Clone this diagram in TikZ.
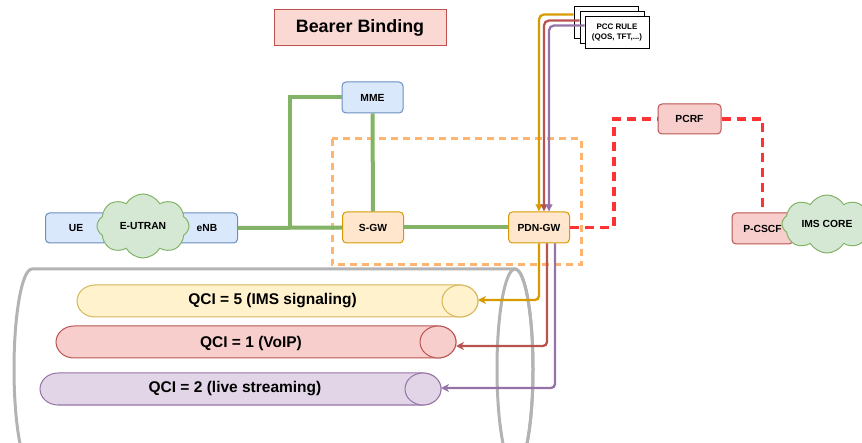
\documentclass[tikz,border=0pt]{standalone}
\usepackage{fontspec}
\setmainfont{Liberation Sans}
\usetikzlibrary{shapes.symbols,arrows.meta,calc}

\definecolor{grnD}{HTML}{82B366}
\definecolor{grnF}{HTML}{D5E8D4}
\definecolor{bluD}{HTML}{6C8EBF}
\definecolor{bluF}{HTML}{DAE8FC}
\definecolor{orgD}{HTML}{D79B00}
\definecolor{orgF}{HTML}{FFE6CC}
\definecolor{orgDash}{HTML}{FFB570}
\definecolor{redD}{HTML}{B85450}
\definecolor{redF}{HTML}{F8CECC}
\definecolor{redDash}{HTML}{FF3333}
\definecolor{purD}{HTML}{9673A6}
\definecolor{purF}{HTML}{E1D5E7}
\definecolor{ylwD}{HTML}{D6B656}
\definecolor{ylwF}{HTML}{FFF2CC}
\definecolor{titD}{HTML}{C0504D}
\definecolor{titF}{HTML}{FAD9D5}
\definecolor{cylD}{HTML}{B3B3B3}

% horizontal pipe: left x, right x, top y, bottom y, style
\newcommand\drawpipe[5]{%
  \path[#5] ({#1+18},#3) -- ({#2-18},#3)
    arc[start angle=-90,end angle=90,x radius=18,y radius={(#4-#3)/2}]
    -- ({#1+18},#4)
    arc[start angle=90,end angle=270,x radius=18,y radius={(#4-#3)/2}] -- cycle;
  \draw[#5] ({#2-18},{(#3+#4)/2}) ellipse[x radius=18,y radius={(#4-#3)/2}];
}

\tikzset{
  box/.style={draw, rounded corners=4pt, minimum width=61pt, minimum height=31pt,
    inner sep=0pt, line width=1pt, font=\bfseries\fontsize{10.3}{12}\selectfont},
  bluebox/.style={box, draw=bluD, fill=bluF},
  orangebox/.style={box, draw=orgD, fill=orgF},
  redbox/.style={box, draw=redD, fill=redF},
  cloudy/.style={cloud, cloud puffs=8, cloud puff arc=120, cloud ignores aspect,
    draw=grnD, fill=grnF, line width=1pt, inner sep=0pt,
    font=\bfseries\fontsize{10.3}{12}\selectfont},
  pccbox/.style={draw=black, fill=white, line width=1pt, minimum width=64pt,
    minimum height=32pt, inner sep=0pt, align=center,
    font=\bfseries\fontsize{8}{10}\selectfont},
  greenlink/.style={draw=grnD, line width=4pt},
  reddash/.style={draw=redDash, line width=3.5pt, dash pattern=on 9pt off 6pt},
  pccarrow/.style={line width=2.3pt, rounded corners=5pt, -{Triangle[length=7pt,width=6.5pt]}},
  qciarrow/.style={line width=2.3pt, rounded corners=4pt, -{Stealth[length=8pt,width=8pt,inset=2.5pt]}},
  qcitext/.style={font=\bfseries\fontsize{15.5}{18}\selectfont},
}

\begin{document}
\begin{tikzpicture}[x=1pt,y=-1pt]
\useasboundingbox (0,0) rectangle (862,443);
\clip (0,0) rectangle (862,443);

% bearer tunnel
\draw[cylD, line width=3pt] (32,269) -- (515,269)
  arc[start angle=-90,end angle=90,x radius=18,y radius=100]
  -- (32,469)
  arc[start angle=90,end angle=270,x radius=18,y radius=100] -- cycle;
\draw[cylD, line width=3pt] (515,369) ellipse[x radius=18,y radius=100];

% QCI bearers
\drawpipe{77}{478}{285}{317}{draw=ylwD, fill=ylwF, line width=1pt}
\drawpipe{56}{456}{326}{358}{draw=redD, fill=redF, line width=1pt}
\drawpipe{40}{441}{373}{405}{draw=purD, fill=purF, line width=1pt}
\node[qcitext] (q5) at (272.5,301) {QCI = 5 (IMS signaling)};
\node[qcitext] (q1) at (251,343) {QCI = 1 (VoIP)};
\node[qcitext] (q2) at (235,389) {QCI = 2 (live streaming)};
\coordinate (t5) at (478,300);
\coordinate (t1) at (456,346);
\coordinate (t2) at (441,388);

% EPC core frame
\draw[orgDash, line width=3pt, dash pattern=on 7pt off 5pt] (332,139) rectangle (581,265);

% title
\node[draw=titD, fill=titF, line width=1pt, minimum width=172pt, minimum height=36pt,
  inner sep=0pt, font=\bfseries\fontsize{17.9}{20}\selectfont] (title) at (360,28) {Bearer Binding};

% nodes
\node[bluebox] (mme) at (372.5,97.5) {MME};
\node[orangebox] (sgw) at (373,227.5) {S-GW};
\node[orangebox] (pdn) at (539,227.5) {PDN-GW};
\node[redbox, minimum width=63pt, minimum height=30pt] (pcrf) at (689.5,119) {PCRF};
\node[bluebox, minimum height=30pt] (ue) at (76,228) {UE};
\node[bluebox, minimum height=30pt] (enb) at (207,228) {eNB};
\node[cloudy, minimum width=92pt, minimum height=64pt] (eutran) at (143,226) {E-UTRAN};

% links
\coordinate (j) at (290,228);
\draw[greenlink] (enb.east) -- (sgw.west);
\draw[greenlink] (sgw.east) -- (pdn.west);
\draw[greenlink] (mme.south) -- (sgw.north);
\draw[greenlink] (mme.west) -| (j);

\node[redbox, minimum height=31pt] (pcscf) at (762.5,228.5) {P-CSCF};
\node[cloudy, minimum width=90pt, minimum height=58pt] (ims) at (827,224) {IMS CORE};

\draw[reddash] (pdn.east) -- ++(44,0) |- (pcrf.west);
\draw[reddash] (pcrf.east) -| (pcscf.north);

% PCC rules
\node[pccbox] (pccA) at (606,23) {};
\node[pccbox] (pccB) at (612,28) {};
\node[pccbox] (pccC) at (617,33) {PCC RULE\\(QOS, TFT,...)};

\draw[pccarrow, orgD] ($(pccA.north west)+(0,8)$) -| (pdn.north);
\draw[pccarrow, redD] ($(pccB.north west)+(0,9)$) -| ($(pdn.north)+(5,0)$);
\draw[pccarrow, purD] ($(pccC.north west)+(0,9)$) -| ($(pdn.north)+(10,0)$);

% bearer mapping
\draw[qciarrow, orgD] (pdn.south) |- (t5);
\draw[qciarrow, redD] ($(pdn.south)+(8,0)$) |- (t1);
\draw[qciarrow, purD] ($(pdn.south)+(16,0)$) |- (t2);
\end{tikzpicture}
\end{document}
